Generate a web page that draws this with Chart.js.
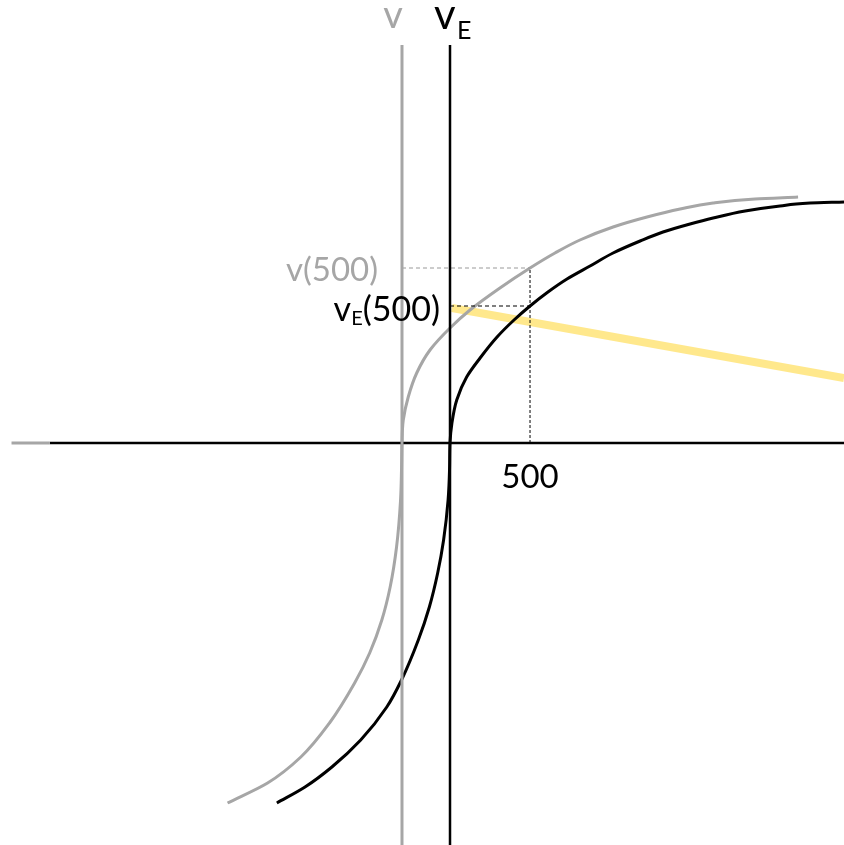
<!DOCTYPE html>
<html>
<head>
<meta charset="utf-8">
<script src="https://cdn.jsdelivr.net/npm/chart.js@4"></script>
<style>
  html, body { margin: 0; padding: 0; background: #fff; }
  #wrap { width: 844px; height: 845px; }
</style>
</head>
<body>
<div id="wrap"><canvas id="grafico"></canvas></div>
<script>
// Datos (x en unidades del eje, 500 = marca)
const vEX = [-1082, -906, -738, -558, -395, -303, -198, -129, -77, -40, -12, -3, 0, 12, 42, 104, 188, 294, 400, 500, 612, 731, 875, 1019, 1188, 1331, 1500, 1644, 1844, 2062, 2250, 2462];
const vEY = [-360, -344, -324, -297, -264, -237, -197, -164, -130, -97, -57, -27, 0, 20, 43, 66, 85, 106, 123, 137, 151, 164, 177, 190, 202, 211, 219, 225, 232, 237, 240, 241];
const vX = [-1390, -1140, -932, -753, -596, -502, -426, -374, -334, -309, -303, -300, -292, -261, -208, -125, 0, 125, 312, 500, 656, 812, 1019, 1231, 1438, 1644, 1906, 2175];
const vY = [-360, -340, -314, -280, -240, -210, -177, -144, -104, -57, -27, 0, 23, 46, 70, 93, 115, 133, 155, 175, 190, 203, 216, 226, 234, 240, 244, 246];
const rectaX = [12, 2462];
const rectaY = [135, 65];

const xMin = -2812, xMax = 2462, yMin = -402, yMax = 443;
const origenV = -300;      // eje v desplazado
const punto = 500;
const v500 = 175, vE500 = 137;

const GRIS = '#a6a6a6';

const pts = (xs, ys) => xs.map((x, i) => ({x: x, y: ys[i]}));

function linea(data, color, ancho, dash) {
    return {
        data: data,
        borderColor: color,
        borderWidth: ancho,
        borderDash: dash || [],
        pointRadius: 0,
        fill: false,
        tension: 0
    };
}

// Textos
const textos = {
    id: 'textos',
    afterDraw(chart) {
        const ctx = chart.ctx;
        const sx = chart.scales.x, sy = chart.scales.y;
        ctx.save();
        ctx.textBaseline = 'middle';
        const fuente = 'Lato, sans-serif';

        // etiquetas de ejes
        ctx.fillStyle = GRIS;
        ctx.font = '38px ' + fuente;
        ctx.textAlign = 'center';
        ctx.fillText('v', sx.getPixelForValue(origenV) - 9, 16);

        ctx.fillStyle = '#000';
        ctx.font = '42px ' + fuente;
        ctx.textAlign = 'left';
        ctx.fillText('v', sx.getPixelForValue(0) - 16, 15);
        ctx.font = '25px ' + fuente;
        ctx.fillText('E', sx.getPixelForValue(0) + 7, 31);

        // v(500)
        ctx.fillStyle = GRIS;
        ctx.font = '33px ' + fuente;
        ctx.textAlign = 'right';
        ctx.fillText('v(500)', 378, sy.getPixelForValue(v500) + 2);

        // vE(500)
        ctx.fillStyle = '#000';
        const yE = sy.getPixelForValue(vE500) + 4;
        ctx.font = '34px ' + fuente;
        const wResto = ctx.measureText('(500)').width;
        ctx.fillText('(500)', 440, yE);
        ctx.font = '20px ' + fuente;
        const wSub = ctx.measureText('E').width;
        ctx.fillText('E', 440 - wResto, yE + 9);
        ctx.font = '34px ' + fuente;
        ctx.fillText('v', 440 - wResto - wSub, yE);

        // 500
        ctx.textAlign = 'center';
        ctx.font = '33px ' + fuente;
        ctx.fillText('500', sx.getPixelForValue(punto), sy.getPixelForValue(0) + 34);
        ctx.restore();
    }
};

new Chart(document.getElementById('grafico'), {
    type: 'line',
    data: {
        datasets: [
            // ejes grises
            linea([{x: origenV, y: yMin}, {x: origenV, y: 398}], GRIS, 3),
            linea([{x: -2740, y: 0}, {x: -2500, y: 0}], GRIS, 3),
            // ejes negros
            linea([{x: 0, y: yMin}, {x: 0, y: 398}], '#000', 2.5),
            linea([{x: -2500, y: 0}, {x: xMax, y: 0}], '#000', 2.5),
            // guias discontinuas
            linea([{x: origenV, y: v500}, {x: punto, y: v500}], '#999', 1, [4, 3]),
            linea([{x: 0, y: vE500}, {x: punto, y: vE500}], '#000', 1.2, [4, 3]),
            linea([{x: punto, y: 0}, {x: punto, y: v500}], '#000', 1, [3, 2]),
            // curvas (monotonas respecto del eje vertical)
            Object.assign(linea(pts(vX, vY), GRIS, 3), {cubicInterpolationMode: 'monotone'}),
            Object.assign(linea(pts(vEX, vEY), '#000', 3), {cubicInterpolationMode: 'monotone'}),
            linea(pts(rectaX, rectaY), 'rgba(255, 204, 0, 0.45)', 8)
        ]
    },
    options: {
        indexAxis: 'y',
        responsive: true,
        maintainAspectRatio: false,
        animation: false,
        layout: { padding: 0 },
        plugins: { legend: { display: false }, tooltip: { enabled: false } },
        scales: {
            x: { type: 'linear', min: xMin, max: xMax, display: false },
            y: { type: 'linear', min: yMin, max: yMax, display: false }
        }
    },
    plugins: [textos]
});
</script>
</body>
</html>
